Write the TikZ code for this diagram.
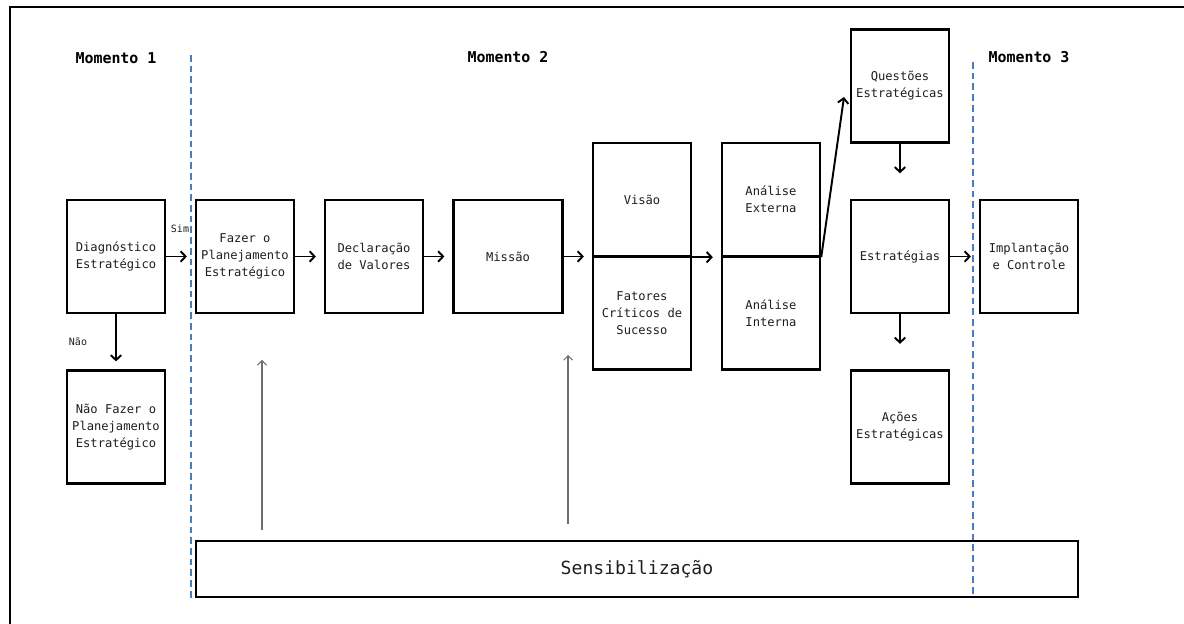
\documentclass[tikz,border=0pt]{standalone}
\usepackage{fontspec}
\setmainfont{DejaVu Sans Mono}
\usetikzlibrary{arrows.meta,positioning,calc}
\definecolor{DashBlue}{RGB}{74,126,187}
\definecolor{ThinGray}{RGB}{110,110,110}
\definecolor{TextGray}{RGB}{30,30,30}

\begin{document}
\begin{tikzpicture}[x=0.02cm, y=-0.02cm,
	box/.style={draw, line width=1.4pt, minimum width=1.96cm, minimum height=2.26cm, inner sep=1pt, align=center, text=TextGray, font=\fontsize{6.9}{9.7}\selectfont},
	flow/.style={-{Straight Barb[length=2.8pt,width=6pt]}, line width=1.1pt, shorten >=4.5pt},
	feed/.style={-{Straight Barb[length=2.5pt,width=5pt]}, line width=0.6pt, ThinGray},
	divider/.style={DashBlue, line width=0.9pt, dash pattern=on 3.8pt off 2.3pt},
	moment/.style={font=\fontsize{8.5}{10}\selectfont\bfseries},
	tag/.style={text=TextGray, font=\fontsize{5.7}{7}\selectfont}]
	\useasboundingbox (0,0) rectangle (1184,624);
	\draw[line width=1pt] (10,624) -- (10,7) -- (1184,7);
	\draw[divider] (191,55) -- (191,600);
	\draw[divider] (973,62) -- (973,597);
	\node[moment] (m1) at (116,58) {Momento 1};
	\node[moment] (m2) at (508,57) {Momento 2};
	\node[moment] (m3) at (1029,57) {Momento 3};
	\node[box] (diag) at (116,256.5) {Diagnóstico\\Estratégico};
	\node[box] (naofazer) at (116,427) {Não Fazer o\\Planejamento\\Estratégico};
	\node[box] (fazer) at (245,256.5) {Fazer o\\Planejamento\\Estratégico};
	\node[box] (declaracao) at (374,256.5) {Declaração\\de Valores};
	\node[box, minimum width=2.18cm] (missao) at (508,256.5) {Missão};
	\node[box] (visao) at (642,199.5) {Visão};
	\node[box] (fatores) at (642,313) {Fatores\\Críticos de\\Sucesso};
	\node[box] (anext) at (771,199.5) {Análise\\Externa};
	\node[box] (anint) at (771,313) {Análise\\Interna};
	\node[box] (questoes) at (900,86) {Questões\\Estratégicas};
	\node[box] (estrategias) at (900,256.5) {Estratégias};
	\node[box] (acoes) at (900,427) {Ações\\Estratégicas};
	\node[box] (implantacao) at (1029,256.5) {Implantação\\e Controle};
	\node[box, minimum width=17.64cm, minimum height=1.12cm, font=\fontsize{10.3}{12}\selectfont] (sensib) at (637,569) {Sensibilização};
	\node[tag] (sim) at (180,229) {Sim};
	\node[tag] (nao) at (78,342) {Não};
	\coordinate (qtip) at (844,97);
	\coordinate (feedAlow) at (262,530);
	\coordinate (feedAtop) at (262,360);
	\coordinate (feedBlow) at (568,524);
	\coordinate (feedBtop) at (568,355);
	\draw[flow] (diag) -- (fazer);
	\draw[flow] (diag) -- (naofazer);
	\draw[flow] (fazer) -- (declaracao);
	\draw[flow] (declaracao) -- (missao);
	\draw[flow] (missao.east) -- (missao.east -| visao.west);
	\draw[flow] (visao.south east) -- (anext.south west);
	\draw[flow, shorten >=0pt] (anext.south east) -- (qtip);
	\draw[flow, shorten >=14.5pt] (questoes) -- (estrategias);
	\draw[flow, shorten >=14.5pt] (estrategias) -- (acoes);
	\draw[flow] (estrategias) -- (implantacao);
	\draw[feed] (feedAlow) -- (feedAtop);
	\draw[feed] (feedBlow) -- (feedBtop);
\end{tikzpicture}
\end{document}
